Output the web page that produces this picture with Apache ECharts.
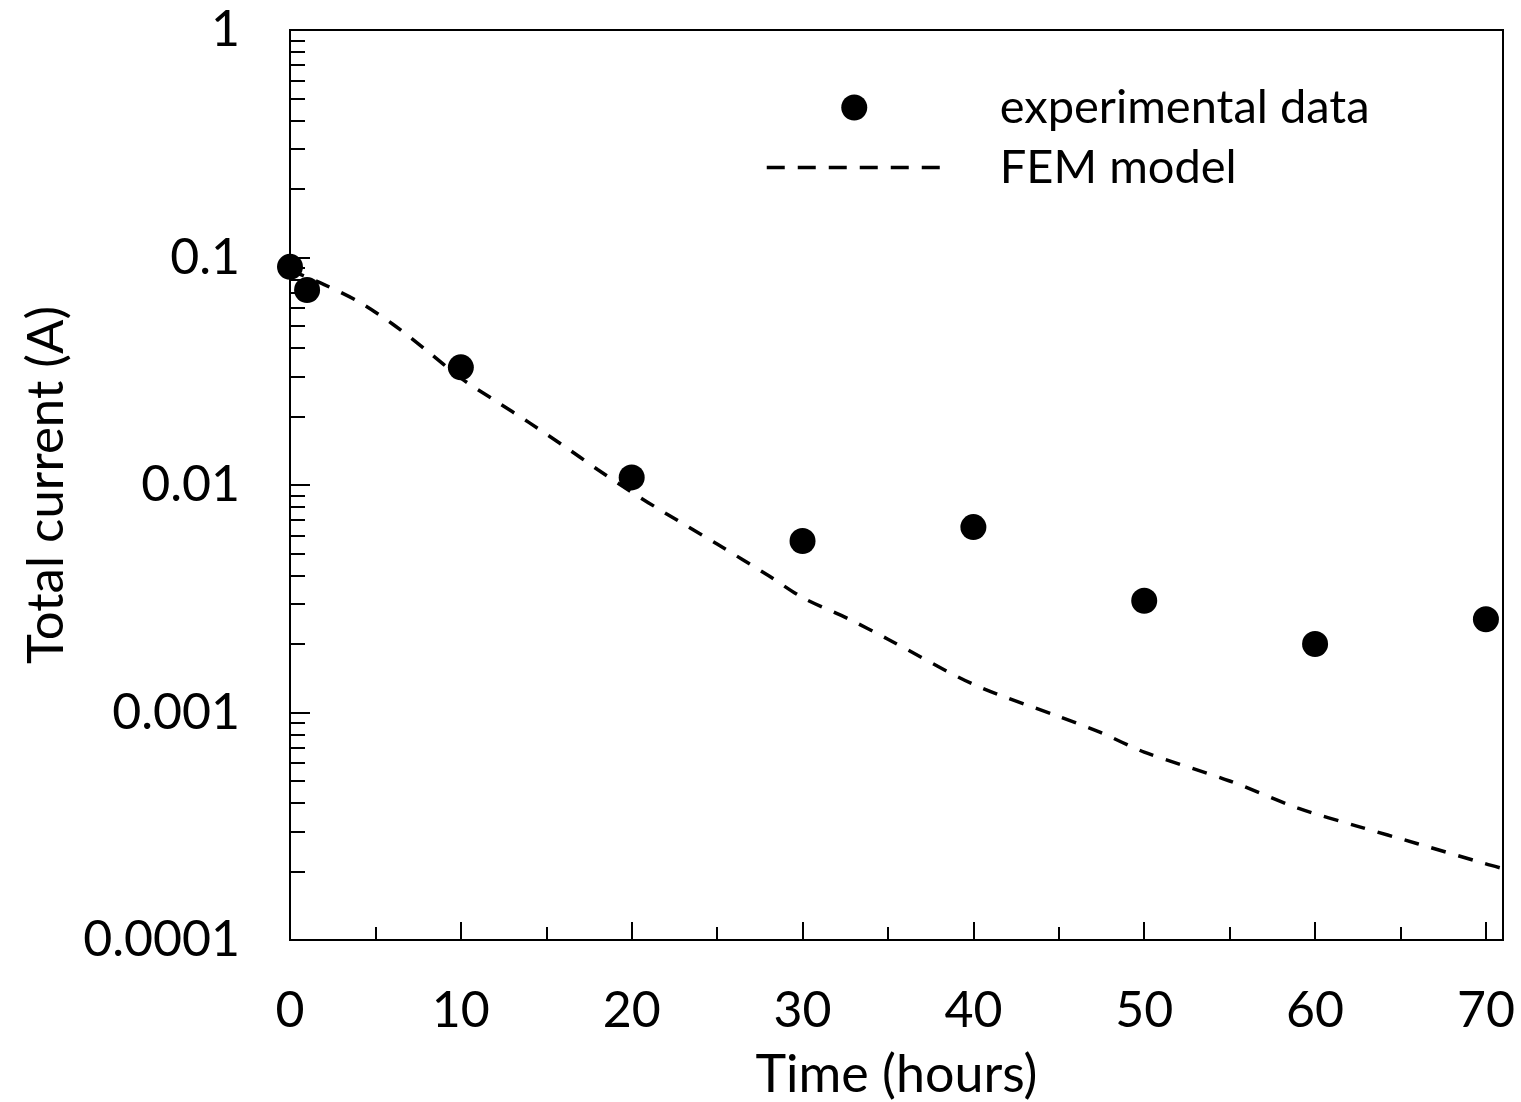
<!DOCTYPE html>
<html>
<head>
<meta charset="utf-8">
<script src="https://cdn.jsdelivr.net/npm/echarts@6/dist/echarts.min.js"></script>
<style>
html,body{margin:0;padding:0;background:#fff;}
#c{width:1521px;height:1102px;}
</style>
</head>
<body>
<div id="c"></div>
<script>
// Experimental data
const timeExp = [0, 1, 10, 20, 30, 40, 50, 60, 70];
const currentExp = [0.091, 0.072, 0.0329, 0.0108, 0.00567, 0.00653, 0.0031, 0.0020, 0.00257];
// FEM model curve
const timeFem = [0, 2, 4, 6, 8, 10, 12, 14, 16, 18, 20, 22, 25, 28, 30, 32.6, 35, 40, 45, 47.4, 50, 55, 59, 62.5, 66, 70, 71];
const currentFem = [0.088, 0.076, 0.064, 0.051, 0.039, 0.0295, 0.0235, 0.0188, 0.0149, 0.0117, 0.0093, 0.0075, 0.0055, 0.0040, 0.0032, 0.0026, 0.0021, 0.00133, 0.00096, 0.00082, 0.00067, 0.00050, 0.00038, 0.000316, 0.000265, 0.000216, 0.000206];
// Tick labels
const xTickLabels = ['0', '10', '20', '30', '40', '50', '60', '70'];
const xMajorTicks = [0, 10, 20, 30, 40, 50, 60, 70];
const xMinorTicks = [5, 15, 25, 35, 45, 55, 65];
const yTickLabels = ['0.0001', '0.001', '0.01', '0.1', '1'];

const FONT = 'Lato';
const chart = echarts.init(document.getElementById('c'));
const expPairs = timeExp.map((t, i) => [t, currentExp[i]]);
const femPairs = timeFem.map((t, i) => [t, currentFem[i]]);

chart.setOption({
  animation: false,
  backgroundColor: '#fff',
  grid: {left: 290, right: 18, top: 30, bottom: 162, show: true, borderColor: '#000', borderWidth: 2,
    containLabel: false, outerBoundsMode: 'none'},
  legend: {
    left: 760, top: 79, orient: 'vertical',
    itemWidth: 175, itemHeight: 26, itemGap: 13,
    textStyle: {fontSize: 47, fontFamily: FONT, color: '#000', padding: [0, 0, 0, 53]},
    data: [
      {name: 'experimental data', icon: 'circle', itemStyle: {color: '#000', opacity: 1}},
      {name: 'FEM model', itemStyle: {opacity: 0}, lineStyle: {color: '#000', width: 3.5, type: [18, 13]}}
    ]
  },
  xAxis: [{
    type: 'value', min: 0, max: 71, interval: 10, position: 'bottom',
    name: 'Time (hours)', nameLocation: 'middle', nameGap: 109,
    nameTextStyle: {fontSize: 52, fontFamily: FONT, color: '#000'},
    axisLine: {lineStyle: {color: '#000', width: 2}},
    axisTick: {inside: true, length: 18, lineStyle: {color: '#000', width: 2}, customValues: xMajorTicks},
    axisLabel: {customValues: xMajorTicks, margin: 46, fontSize: 50, fontFamily: FONT, color: '#000',
      formatter: v => xTickLabels[xMajorTicks.indexOf(v)] || ''},
    splitLine: {show: false}
  }, {
    type: 'value', min: 0, max: 71, position: 'bottom', gridIndex: 0,
    axisLine: {show: false},
    axisTick: {inside: true, length: 13, lineStyle: {color: '#000', width: 2}, customValues: xMinorTicks},
    axisLabel: {show: false},
    splitLine: {show: false}
  }],
  yAxis: {
    type: 'log', logBase: 10, min: 0.0001, max: 1,
    name: 'Total current (A)', nameLocation: 'middle', nameGap: 218,
    nameTextStyle: {fontSize: 51, fontFamily: FONT, color: '#000'},
    axisLine: {lineStyle: {color: '#000', width: 2}},
    axisTick: {inside: true, length: 20, lineStyle: {color: '#000', width: 2}},
    minorTick: {show: true, splitNumber: 9, length: 15, lineStyle: {color: '#000', width: 2}},
    axisLabel: {margin: 50, fontSize: 50, fontFamily: FONT, color: '#000',
      formatter: v => {
        const s = yTickLabels.find(l => Math.abs(parseFloat(l) - v) < v * 1e-6);
        return s || '';
      }},
    splitLine: {show: false},
    minorSplitLine: {show: false}
  },
  series: [{
    name: 'experimental data', type: 'scatter', data: expPairs,
    symbol: 'circle', symbolSize: 26, itemStyle: {color: '#000', opacity: 1}, z: 3
  }, {
    name: 'FEM model', type: 'line', data: femPairs, symbol: 'none', smooth: 0.3,
    lineStyle: {color: '#000', width: 3.5, type: [15, 13]}, itemStyle: {color: '#000'}, z: 2
  }]
});
</script>
</body>
</html>
